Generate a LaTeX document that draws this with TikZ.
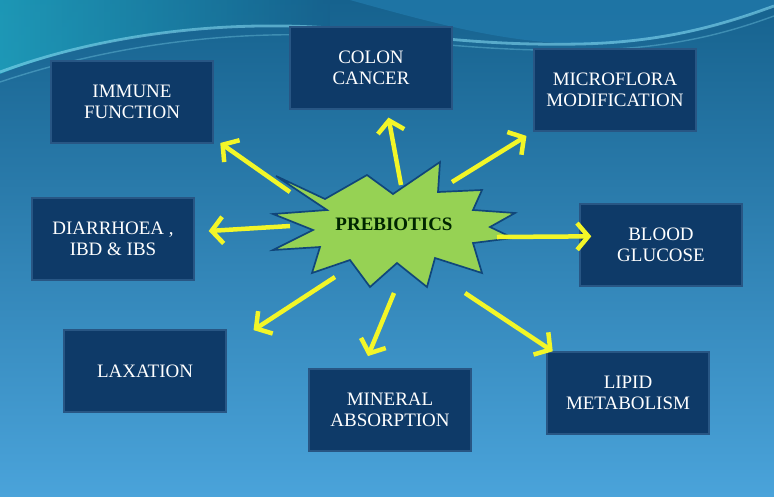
\documentclass[tikz,border=0pt]{standalone}
\usepackage{fontspec}
\setmainfont{Liberation Serif}
\usetikzlibrary{arrows.meta,calc}

\definecolor{bgtop}{RGB}{22,98,142}
\definecolor{bgmid}{RGB}{44,128,184}
\definecolor{bgbot}{RGB}{74,163,218}
\definecolor{tealglow}{RGB}{30,160,188}
\definecolor{crestblue}{RGB}{34,124,174}
\definecolor{swoosh}{RGB}{130,215,238}
\definecolor{boxnavy}{RGB}{14,58,104}
\definecolor{boxedge}{RGB}{40,86,132}
\definecolor{burstgreen}{RGB}{150,210,84}
\definecolor{burstedge}{RGB}{16,70,122}
\definecolor{boltyellow}{RGB}{242,246,40}

\tikzset{
  effect/.style={draw=boxedge,line width=1pt,fill=boxnavy,text=white,
    minimum width=4.05cm,minimum height=2.05cm,inner sep=0pt,align=center,
    font=\fontsize{13.5}{15}\selectfont},
  bolt/.style={draw=boltyellow,line width=3.2pt,-{Straight Barb[length=8pt,width=19pt]}},
}

\begin{document}
\begin{tikzpicture}[x=0.025cm,y=-0.025cm]
      \useasboundingbox (0,0) rectangle (774,496);
      % background and the wave at the top
      \shade[top color=bgtop,middle color=bgmid,bottom color=bgbot] (0,0) rectangle (774,496);
      \shade[left color=tealglow,right color=bgtop,opacity=0.85] (0,0)--(0,74) .. controls (100,35) and (220,20) .. (330,28)--(330,0)--cycle;
      \fill[crestblue,opacity=0.7] (350,0) .. controls (440,25) and (510,44) .. (590,44) .. controls (670,44) and (730,22) .. (774,6)--(774,0)--cycle;
      \draw[swoosh,line width=2pt,opacity=0.6] (0,72) .. controls (100,35) and (220,20) .. (330,28) .. controls (420,35) and (480,46) .. (580,44) .. controls (670,42) and (730,22) .. (774,6);
      \draw[swoosh,line width=1pt,opacity=0.35] (0,82) .. controls (110,45) and (230,30) .. (340,36) .. controls (430,42) and (490,52) .. (590,50) .. controls (680,48) and (735,30) .. (774,16);

      % effect boxes
      \node[effect] (immune) at (132,102) {IMMUNE\\FUNCTION};
      \node[effect] (colon) at (371,68) {COLON\\CANCER};
      \node[effect] (micro) at (615,90) {MICROFLORA\\MODIFICATION};
      \node[effect] (diarr) at (113,239) {DIARRHOEA ,\\IBD \& IBS};
      \node[effect] (blood) at (661,245) {BLOOD\\GLUCOSE};
      \node[effect] (laxation) at (145,371) {LAXATION};
      \node[effect] (mineral) at (390,410) {MINERAL\\ABSORPTION};
      \node[effect] (lipid) at (628,393) {LIPID\\METABOLISM};

      % the burst
      \filldraw[fill=burstgreen,draw=burstedge,line width=1.2pt]
        (276,176)--(325,199)--(367,175)--(393,194)--(440,162)--(438,192)--(482,190)--(473,210)
        --(515,213)--(490,227)--(513,238)--(473,243)--(482,273)--(435,258)--(427,287)--(397,263)
        --(370,287)--(350,260)--(312,273)--(320,247)--(273,250)--(313,230)--(273,214)--(327,210)--cycle;
      \node[font=\fontsize{13.5}{15}\selectfont\bfseries,text=black!85!green] (burst) at (394,224) {PREBIOTICS};

      % arrows out of the burst
      \coordinate (s1) at (290,192);
      \coordinate (s2) at (401,185);
      \coordinate (s3) at (452,182);
      \coordinate (s4) at (290,226);
      \coordinate (s5) at (497,237);
      \coordinate (s6) at (335,277);
      \coordinate (s7) at (394,293);
      \coordinate (s8) at (465,293);
      \draw[bolt,shorten >=0.2cm] (s1)--(immune.-24);
      \draw[bolt,shorten >=0.2cm] (s2)--(colon.-69);
      \draw[bolt,shorten >=0.2cm] (s3)--(micro.south west);
      \draw[bolt,shorten >=0.35cm] (s4)--(diarr.5);
      \draw[bolt,shorten >=-0.3cm] (s5)--(blood.174);
      \draw[bolt,shorten >=0.8cm] (s6)--(laxation.16);
      \draw[bolt,shorten >=0.33cm] (s7)--(mineral.123);
      \draw[bolt] (s8)--(lipid.151);
\end{tikzpicture}
\end{document}
